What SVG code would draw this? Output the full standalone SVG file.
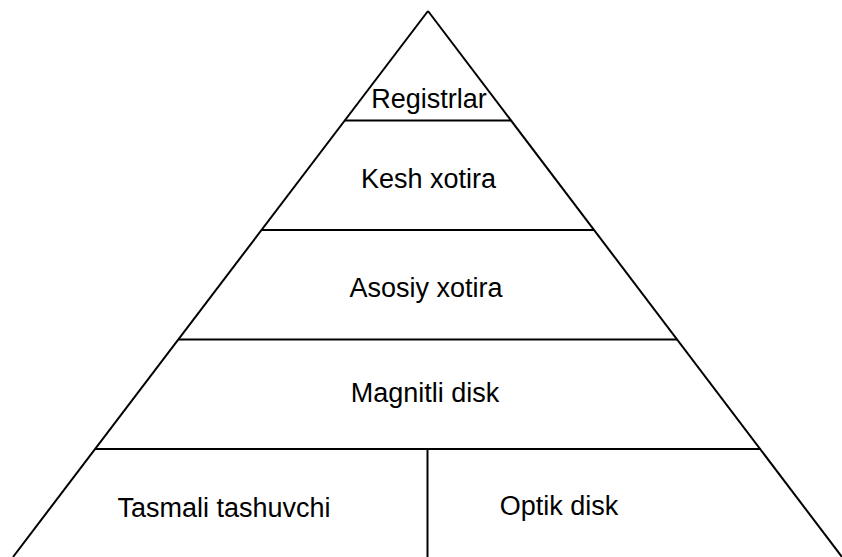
<svg xmlns="http://www.w3.org/2000/svg" width="842" height="557" viewBox="0 0 842 557">
<style>
.ln{stroke:#000;stroke-width:2;fill:none}
.t{font-family:"Liberation Sans",Arial,sans-serif;font-size:27px;fill:#000;text-anchor:middle}
</style>
<rect width="842" height="557" fill="#fff"/>
<g id="connectors">
<line class="ln" x1="428" y1="11" x2="13" y2="557"/>
<line class="ln" x1="428" y1="11" x2="842" y2="557"/>
<line class="ln" x1="345" y1="120.5" x2="511" y2="120.5"/>
<line class="ln" x1="262" y1="230" x2="594" y2="230"/>
<line class="ln" x1="179" y1="339.5" x2="677" y2="339.5"/>
<line class="ln" x1="95" y1="449" x2="761" y2="449"/>
<line class="ln" x1="427.5" y1="449" x2="427.5" y2="557"/>
</g>
<g id="registrlar"><text class="t" x="429" y="108">Registrlar</text></g>
<g id="kesh"><text class="t" x="428.5" y="188">Kesh xotira</text></g>
<g id="asosiy"><text class="t" x="426" y="297">Asosiy xotira</text></g>
<g id="magnitli"><text class="t" x="425" y="402">Magnitli disk</text></g>
<g id="tasmali"><text class="t" x="224" y="517">Tasmali tashuvchi</text></g>
<g id="optik"><text class="t" x="559" y="515">Optik disk</text></g>
</svg>
